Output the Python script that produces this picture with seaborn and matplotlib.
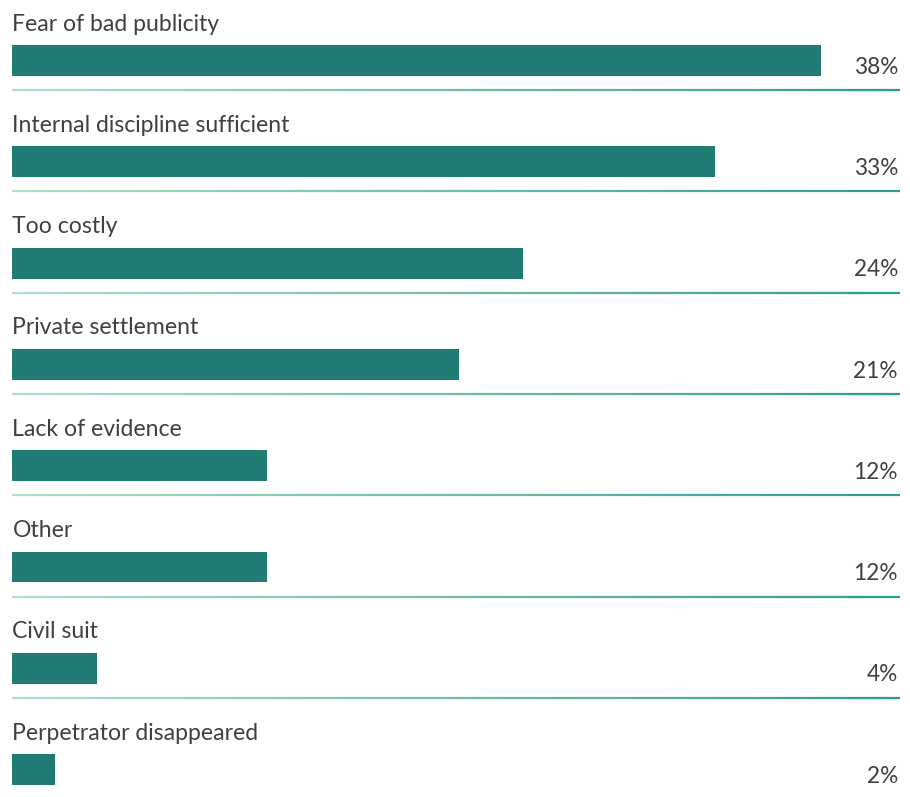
import matplotlib
matplotlib.use("Agg")
import matplotlib.pyplot as plt
import seaborn as sns
import numpy as np
import pandas as pd
from matplotlib.collections import LineCollection
from matplotlib.colors import LinearSegmentedColormap

categories = ["Fear of bad publicity", "Internal discipline sufficient", "Too costly",
              "Private settlement", "Lack of evidence", "Other", "Civil suit",
              "Perpetrator disappeared"]
values = [38, 33, 24, 21, 12, 12, 4, 2]
value_labels = ["38%", "33%", "24%", "21%", "12%", "12%", "4%", "2%"]

sns.set_style("white")
plt.rcParams['font.family'] = ['Lato', 'DejaVu Sans']

df = pd.DataFrame({"category": categories, "value": values})

fig = plt.figure(figsize=(9.10, 7.97), dpi=100)
ax = fig.add_axes([0, 0, 1, 1])

sns.barplot(data=df, x="value", y="category", orient="h", color="#207b72",
            saturation=1, width=0.306, ax=ax, order=categories, linewidth=0)

ppu = (821 - 12) / 38.0
ax.set_xlim(-12 / ppu, (910 - 12) / ppu)
row = 101.3
ax.set_ylim((797 - 60.5) / row, -60.5 / row)

text_color = "#404040"
right_x = (898 - 12) / ppu
cmap = LinearSegmentedColormap.from_list("sep", ["#b3dec3", "#2a9d94"])
n = 200
xs = np.linspace(0, (900 - 12) / ppu, n + 1)
for i, (cat, lab) in enumerate(zip(categories, value_labels)):
    ax.text(0.02, i - 0.36, cat, ha="left", va="center", fontsize=16.6,
            color=text_color)
    ax.text(right_x, i + 0.13, lab, ha="right", va="baseline", fontsize=16.3,
            color=text_color)
    if i < len(categories) - 1:
        y = i + 0.293
        segs = [[(xs[k], y), (xs[k + 1], y)] for k in range(n)]
        lc = LineCollection(segs, colors=cmap(np.linspace(0, 1, n)), linewidths=1.6)
        ax.add_collection(lc)

ax.set_xlabel("")
ax.set_ylabel("")
ax.set_xticks([])
ax.set_yticks([])
for s in ax.spines.values():
    s.set_visible(False)

fig.savefig("out.png", dpi=100)
